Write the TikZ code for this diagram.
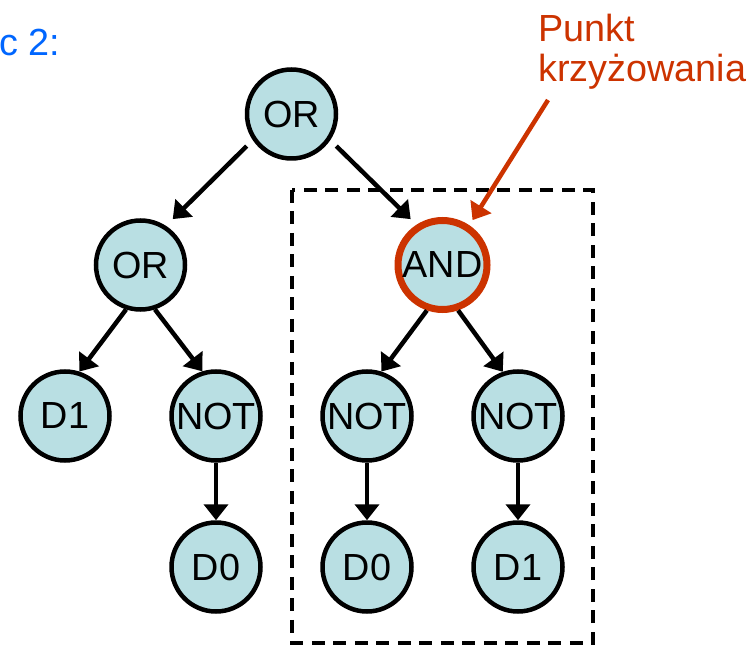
\documentclass[tikz,border=0pt]{standalone}
\usepackage{fontspec}
\setmainfont{Liberation Sans}
\usetikzlibrary{arrows.meta}
\usetikzlibrary{math}
\definecolor{nodefill}{RGB}{185,223,227}
\definecolor{crossred}{RGB}{204,51,0}
\definecolor{parentblue}{RGB}{0,102,255}
\tikzset{>={Triangle[length=3.2mm,width=4.8mm]}}
\tikzset{
    gate/.style={circle, draw=black, line width=0.09cm, fill=nodefill, minimum size=1.78cm, inner sep=0pt},
    crosspoint/.style={gate, draw=crossred, line width=0.14cm},
    link/.style={->, line width=0.09cm},
    subtree/.style={dash pattern=on 0.26cm off 0.17cm, line width=0.08cm},
}

\begin{document}
\begin{tikzpicture}[font=\fontsize{21.5}{22.7}\selectfont] % parent 2, crossover subtree
	\tikzmath{\s = 3.02; \xr = 5.83; \yr = 10.62;}
	\useasboundingbox (0,0) rectangle (15.02,12.9);
	\node[anchor=base west, text=parentblue, inner sep=0pt] (parent) at (-0.02,11.78) {c 2:};
	% tree
	\node[gate] (root) at (\xr, \yr) {OR};
	\node[gate] (or1) at (\xr-\s, \yr-\s) {OR};
	\node[crosspoint] (and) at (\xr+\s, \yr-\s) {AND};
	\node[gate] (d1) at (\xr-1.5*\s, \yr-2*\s) {D1};
	\node[gate] (not1) at (\xr-0.5*\s, \yr-2*\s) {NOT};
	\node[gate] (not2) at (\xr+0.5*\s, \yr-2*\s) {NOT};
	\node[gate] (not3) at (\xr+1.5*\s, \yr-2*\s) {NOT};
	\node[gate] (d0a) at (\xr-0.5*\s, \yr-3*\s) {D0};
	\node[gate] (d0b) at (\xr+0.5*\s, \yr-3*\s) {D0};
	\node[gate] (d1b) at (\xr+1.5*\s, \yr-3*\s) {D1};
	\draw[link, shorten <=0.17cm, shorten >=0.19cm] (root.214) -- (or1.57);
	\draw[link, shorten <=0.17cm, shorten >=0.16cm] (root.326) -- (and.123);
	\draw[link] (or1.252) -- (d1.72);
	\draw[link] (or1.288) -- (not1.107);
	\draw[link] (and.251) -- (not2.72);
	\draw[link] (and.289) -- (not3.109);
	\draw[link] (not1) -- (d0a);
	\draw[link] (not2) -- (d0b);
	\draw[link] (not3) -- (d1b);
	% swapped subtree
	\draw[subtree] (5.84,9.10) rectangle (11.86,0.04);
	\node[anchor=north west, align=left, text=crossred, inner sep=0pt] (label) at (10.76,12.62) {Punkt\\krzyżowania};
	\coordinate (tail) at (10.96,10.90);
	\draw[link, crossred, shorten >=0.12cm] (tail) -- (and.56);
\end{tikzpicture}
\end{document}
